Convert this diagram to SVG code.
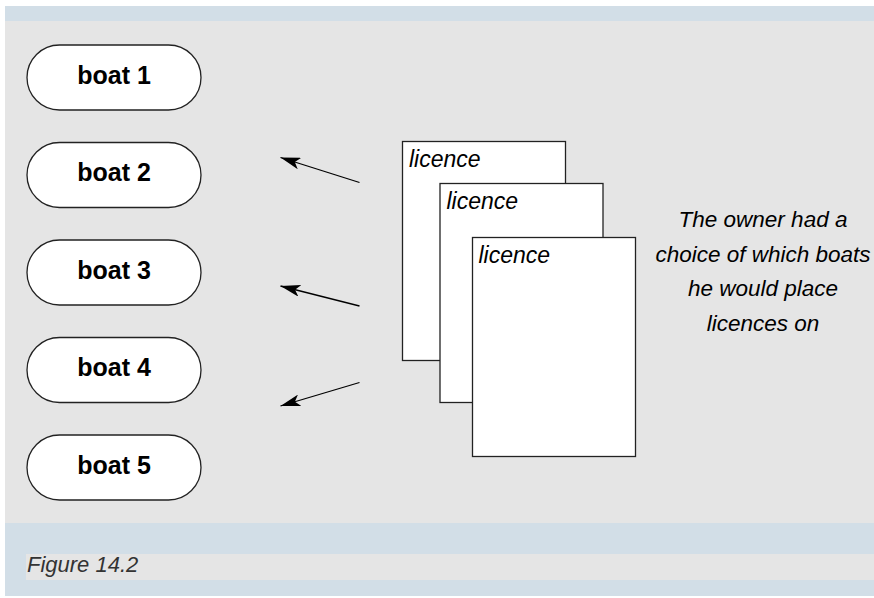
<svg xmlns="http://www.w3.org/2000/svg" width="874" height="598" viewBox="0 0 874 598">
<style>
.band{fill:#d2dee7}
.panel{fill:#e5e5e5}
.pill{fill:#fff;stroke:#222;stroke-width:1.3}
.card{fill:#fff;stroke:#222;stroke-width:1.3}
.bt{font-family:"Liberation Sans",Arial,sans-serif;font-weight:bold;font-size:25px;fill:#000;text-anchor:middle}
.lt{font-family:"Liberation Sans",Arial,sans-serif;font-style:italic;font-size:23px;fill:#000}
.nt{font-family:"Liberation Sans",Arial,sans-serif;font-style:italic;font-size:22.5px;fill:#000;text-anchor:middle}
.ft{font-family:"Liberation Sans",Arial,sans-serif;font-style:italic;font-size:22px;fill:#333}
.conn{stroke:#000;stroke-width:1.3;fill:none;marker-end:url(#ah)}
</style>
<defs>
<marker id="ah" viewBox="0 0 20 12" refX="20" refY="6" markerWidth="20" markerHeight="12" markerUnits="userSpaceOnUse" orient="auto">
<path d="M0,0 L20,6 L0,12 L5,6 Z" fill="#000"/>
</marker>
</defs>
<rect width="874" height="598" fill="#fff"/>
<g id="background">
<rect class="band" x="5" y="6" width="869" height="15"/>
<rect class="panel" x="5" y="21" width="869" height="502"/>
<rect class="band" x="5" y="523" width="869" height="73"/>
<rect class="panel" x="26" y="554" width="848" height="26"/>
</g>
<g id="boat1"><rect class="pill" x="27" y="45" width="174" height="65" rx="32.5"/><text class="bt" x="114" y="83.5">boat 1</text></g>
<g id="boat2"><rect class="pill" x="27" y="142.5" width="174" height="65" rx="32.5"/><text class="bt" x="114" y="181">boat 2</text></g>
<g id="boat3"><rect class="pill" x="27" y="240" width="174" height="65" rx="32.5"/><text class="bt" x="114" y="278.5">boat 3</text></g>
<g id="boat4"><rect class="pill" x="27" y="337.5" width="174" height="65" rx="32.5"/><text class="bt" x="114" y="376">boat 4</text></g>
<g id="boat5"><rect class="pill" x="27" y="435" width="174" height="65" rx="32.5"/><text class="bt" x="114" y="473.5">boat 5</text></g>
<g id="licence1"><rect class="card" x="402.5" y="141.5" width="163" height="219"/><text class="lt" x="409" y="167">licence</text></g>
<g id="licence2"><rect class="card" x="440" y="183.5" width="163" height="219"/><text class="lt" x="446.5" y="209">licence</text></g>
<g id="licence3"><rect class="card" x="472.5" y="237.5" width="163" height="219"/><text class="lt" x="478.5" y="263">licence</text></g>
<g id="connectors">
<line class="conn" x1="359.5" y1="182.5" x2="280.5" y2="157.5"/>
<line class="conn" x1="359.5" y1="306" x2="280.5" y2="286"/>
<line class="conn" x1="359.5" y1="382.5" x2="280.5" y2="406"/>
</g>
<g id="note">
<text class="nt" x="763" y="227">The owner had a</text>
<text class="nt" x="763" y="262">choice of which boats</text>
<text class="nt" x="763" y="296">he would place</text>
<text class="nt" x="763" y="331">licences on</text>
</g>
<g id="caption"><text class="ft" x="27" y="572">Figure 14.2</text></g>
</svg>
